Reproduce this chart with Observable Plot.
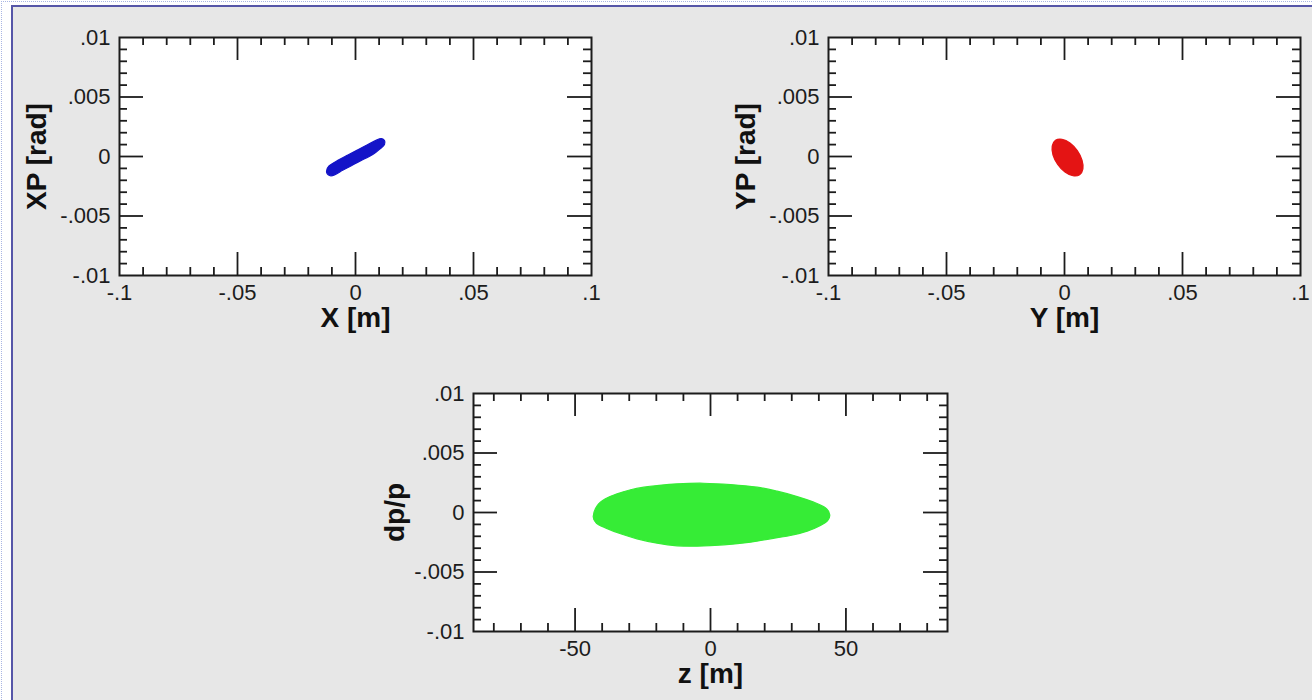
<!DOCTYPE html>
<html>
<head>
<meta charset="utf-8">
<script src="https://cdn.jsdelivr.net/npm/d3@7"></script>
<script src="https://cdn.jsdelivr.net/npm/@observablehq/plot@0.6"></script>
<style>
  html, body { margin: 0; padding: 0; background: #ffffff; }
  #page { position: relative; width: 1312px; height: 700px; overflow: hidden; font-family: "Liberation Sans", Arial, sans-serif; }
  #dots { position: absolute; left: 1px; top: 1px; right: 0; bottom: 0; border-top: 1px dotted #a9b6e4; border-left: 1px dotted #a9b6e4; }
  #sheet { position: absolute; left: 11px; top: 5px; width: 1310px; height: 700px; background: #e7e7e7; border-left: 2px solid #5656a8; border-top: 2px solid #5656a8; }
  .panel { position: absolute; }
</style>
</head>
<body>
<div id="page">
  <div id="dots"></div>
  <div id="sheet"></div>
</div>
<script>
// ---- Axis ticks and labels ----
const posTicks = [-0.1, -0.05, 0, 0.05, 0.1];
const posTickLabels = ["-.1", "-.05", "0", ".05", ".1"];
const posMajor = [-0.05, 0, 0.05];
const posMinor = [-0.09, -0.08, -0.07, -0.06, -0.04, -0.03, -0.02, -0.01,
                  0.01, 0.02, 0.03, 0.04, 0.06, 0.07, 0.08, 0.09];

const angTicks = [-0.01, -0.005, 0, 0.005, 0.01];
const angTickLabels = ["-.01", "-.005", "0", ".005", ".01"];
const angMajor = [-0.005, 0, 0.005];
const angMinor = [-0.009, -0.008, -0.007, -0.006, -0.004, -0.003, -0.002, -0.001,
                  0.001, 0.002, 0.003, 0.004, 0.006, 0.007, 0.008, 0.009];

const zTicks = [-50, 0, 50];
const zTickLabels = ["-50", "0", "50"];
const zMajor = [-50, 0, 50];
const zMinor = [-80, -70, -60, -40, -30, -20, -10, 10, 20, 30, 40, 60, 70, 80];

// ---- Beam outlines in phase space ----
// horizontal plane: X [m] vs XP [rad]
const beamX  = [-0.01229, -0.01123, -0.00746, -0.00322, 0.00102, 0.00525, 0.00890, 0.01102, 0.01229,
                0.01229, 0.01059, 0.00746, 0.00322, -0.00102, -0.00525, -0.00890, -0.01102];
const beamXP = [-0.00126, -0.00080, -0.00032, 0.00013, 0.00057, 0.00101, 0.00139, 0.00151, 0.00134,
                0.00101, 0.00067, 0.00018, -0.00025, -0.00070, -0.00114, -0.00155, -0.00160];

// vertical plane: Y [m] vs YP [rad]
const beamY  = [0.00640, 0.00780, 0.00742, 0.00542, 0.00233, -0.00106,
                -0.00381, -0.00521, -0.00487, -0.00288, 0.00021, 0.00360];
const beamYP = [-0.00153, -0.00105, -0.00030, 0.00050, 0.00114, 0.00145,
                0.00136, 0.00088, 0.00013, -0.00066, -0.00131, -0.00162];

// longitudinal plane: z [m] vs dp/p
const beamZ  = [-43.3, -41.8, -38.8, -34.5, -29.5, -24.6, -19.7, -12.3, -2.5, 7.4, 17.2, 24.6,
                32.0, 38.1, 42.5, 44.0, 43.3, 40.6, 35.7, 29.5, 22.1, 14.8, 4.9, -4.9, -12.3,
                -19.7, -27.1, -33.2, -38.8, -42.1];
const beamDP = [-0.00034, 0.00059, 0.00115, 0.00157, 0.00191, 0.00213, 0.00227, 0.00241,
                0.00246, 0.00235, 0.00213, 0.00179, 0.00134, 0.00087, 0.00039, -0.00017,
                -0.00067, -0.00109, -0.00157, -0.00193, -0.00221, -0.00249, -0.00272,
                -0.00283, -0.00280, -0.00258, -0.00221, -0.00179, -0.00129, -0.00090];

const ink = "#1c1c1c";

function panel(o) {
  const fw = o.width - o.ml - o.mr;
  const fh = o.height - o.mt - o.mb;
  const shape = o.xs.map((x, i) => ({x, y: o.ys[i]}));
  const t = {stroke: ink, strokeWidth: 1.8};
  const majX = 23, minX = 8, majY = 24, minY = 8;
  const svg = Plot.plot({
    width: o.width,
    height: o.height,
    marginLeft: o.ml, marginRight: o.mr, marginTop: o.mt, marginBottom: o.mb,
    style: {background: "transparent", fontFamily: "'Liberation Sans', Arial, sans-serif",
            fontSize: "22px", color: ink, overflow: "visible"},
    x: {domain: o.xDomain, ticks: o.xTicks, tickFormat: d => o.xLabels[o.xTicks.indexOf(d)],
        tickSize: 0, tickPadding: 9, label: null},
    y: {domain: o.yDomain, ticks: o.yTicks, tickFormat: d => o.yLabels[o.yTicks.indexOf(d)],
        tickSize: 0, tickPadding: 9, label: null},
    marks: [
      Plot.frame({fill: "white", stroke: null}),
      Plot.line(shape, {x: "x", y: "y", curve: "cardinal-closed", fill: o.color, stroke: o.color, strokeWidth: 1.2}),
      Plot.tickX(o.xMinor, {x: d => d, insetTop: fh - minX, ...t}),
      Plot.tickX(o.xMinor, {x: d => d, insetBottom: fh - minX, ...t}),
      Plot.tickX(o.xMajor, {x: d => d, insetTop: fh - majX, ...t}),
      Plot.tickX(o.xMajor, {x: d => d, insetBottom: fh - majX, ...t}),
      Plot.tickY(o.yMinor, {y: d => d, insetRight: fw - minY, ...t}),
      Plot.tickY(o.yMinor, {y: d => d, insetLeft: fw - minY, ...t}),
      Plot.tickY(o.yMajor, {y: d => d, insetRight: fw - majY, ...t}),
      Plot.tickY(o.yMajor, {y: d => d, insetLeft: fw - majY, ...t}),
      Plot.frame({stroke: ink, strokeWidth: 2}),
      Plot.text([o.xTitle], {frameAnchor: "bottom", dy: 43, textAnchor: "middle", lineAnchor: "middle",
                             fontSize: 28, fontWeight: "bold", fill: "#111"}),
      Plot.text([o.yTitle], {frameAnchor: "left", dx: o.yTitleDx, rotate: -90, textAnchor: "middle",
                             lineAnchor: "middle", fontSize: 28, fontWeight: "bold", fill: "#111"})
    ]
  });
  svg.classList.add("panel");
  svg.style.left = o.left + "px";
  svg.style.top = o.top + "px";
  document.getElementById("page").appendChild(svg);
}

panel({
  left: 0, top: 0, width: 620, height: 350, ml: 119, mr: 29, mt: 37, mb: 75,
  xDomain: [-0.1, 0.1], yDomain: [-0.01, 0.01],
  xTicks: posTicks, xLabels: posTickLabels, xMajor: posMajor, xMinor: posMinor,
  yTicks: angTicks, yLabels: angTickLabels, yMajor: angMajor, yMinor: angMinor,
  xs: beamX, ys: beamXP, color: "#1414c8",
  xTitle: "X [m]", yTitle: "XP [rad]", yTitleDx: -82
});

panel({
  left: 700, top: 0, width: 612, height: 350, ml: 128, mr: 12, mt: 37, mb: 75,
  xDomain: [-0.1, 0.1], yDomain: [-0.01, 0.01],
  xTicks: posTicks, xLabels: posTickLabels, xMajor: posMajor, xMinor: posMinor,
  yTicks: angTicks, yLabels: angTickLabels, yMajor: angMajor, yMinor: angMinor,
  xs: beamY, ys: beamYP, color: "#e41414",
  xTitle: "Y [m]", yTitle: "YP [rad]", yTitleDx: -82
});

panel({
  left: 360, top: 360, width: 640, height: 340, ml: 113, mr: 53, mt: 33, mb: 69,
  xDomain: [-87.5, 87.5], yDomain: [-0.01, 0.01],
  xTicks: zTicks, xLabels: zTickLabels, xMajor: zMajor, xMinor: zMinor,
  yTicks: angTicks, yLabels: angTickLabels, yMajor: angMajor, yMinor: angMinor,
  xs: beamZ, ys: beamDP, color: "#36ec36",
  xTitle: "z [m]", yTitle: "dp/p", yTitleDx: -78
});
</script>
</body>
</html>
